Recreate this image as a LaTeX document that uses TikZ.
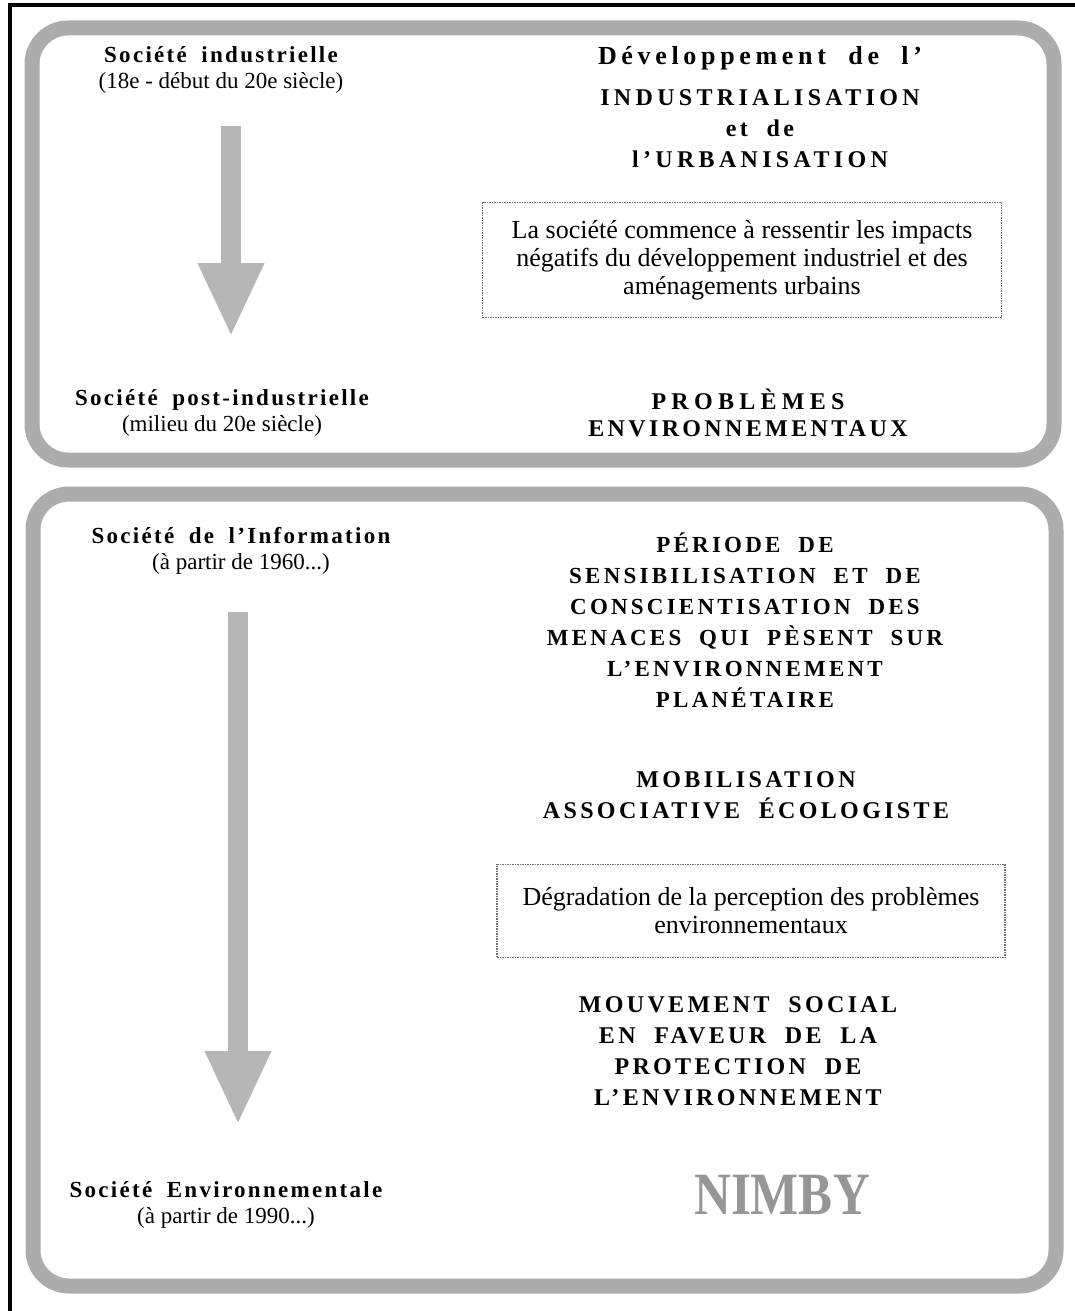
\documentclass[tikz,border=0pt]{standalone}
\usepackage{fontspec}
\setmainfont{Liberation Serif}
\newfontfamily\erafont[LetterSpace=10, WordSpace=1.8]{Liberation Serif}
\newfontfamily\stagefont[LetterSpace=14, WordSpace=2]{Liberation Serif}
\usepackage{tikz}
\usetikzlibrary{arrows.meta, positioning}
\definecolor{bandgray}{RGB}{172,172,172}
\definecolor{arrowgray}{RGB}{182,182,182}
\definecolor{dotgray}{RGB}{110,110,110}
\definecolor{nimbygray}{RGB}{150,150,150}
\newcommand{\eraname}[1]{{\erafont\bfseries #1}}
\tikzset{
  era/.style={
    align=center, font=\fontsize{23}{26}\selectfont, inner sep=0pt
  },
  stage/.style={
    align=center, inner sep=0pt,
    font=\fontsize{24}{31}\selectfont\stagefont\bfseries
  },
  note/.style={
    rectangle, draw=dotgray, densely dotted, line width=1.5pt,
    align=center, font=\fontsize{26}{28}\selectfont, inner sep=0pt
  },
  band/.style={draw=bandgray, line width=15pt, rounded corners=36pt},
  fatarrow/.style={
    line width=20pt, draw=arrowgray, -{Triangle[width=61pt, length=74pt]}
  }
}

\begin{document}
\begin{tikzpicture}[x=1pt, y=-1pt]
  \useasboundingbox (0,0) rectangle (1075,1311);
  \fill[white] (0,0) rectangle (1075,1311);

  % Frame and bands
  \draw[line width=4pt] (9.5,1311) -- (9.5,5.5) -- (1075,5.5);
  \draw[band] (32,28) rectangle (1054,460);
  \draw[band] (33,494) rectangle (1056,1286);

  % Left column
  \node[era] (indus) at (221,70)
    {\eraname{Société industrielle}\\(18e - début du 20e siècle)};
  \node[era] (postind) at (222,413)
    {\eraname{Société post-industrielle}\\(milieu du 20e siècle)};
  \node[era] (info) at (241,551)
    {\eraname{Société de l’Information}\\(à partir de 1960...)};
  \node[era] (envsoc) at (226,1205)
    {\eraname{Société Environnementale}\\(à partir de 1990...)};

  % Arrows
  \coordinate (a1top) at (231,126);
  \coordinate (a1tip) at (231,337);
  \coordinate (a2top) at (238,612);
  \coordinate (a2tip) at (238,1125);
  \draw[fatarrow] (a1top) -- (a1tip);
  \draw[fatarrow] (a2top) -- (a2tip);

  % Right column, top
  \node[stage] (devel) at (760,107)
    {{\fontsize{26}{31}\selectfont\addfontfeatures{LetterSpace=18}Développement de l’}\\[10pt]
     {\addfontfeatures{LetterSpace=18}INDUSTRIALISATION}\\et de\\
     {\addfontfeatures{LetterSpace=18}l’URBANISATION}};
  \node[note, minimum width=519pt, minimum height=115pt] (impacts) at (742,260)
    {La société commence à ressentir les impacts\\
     négatifs du développement industriel et des\\
     aménagements urbains};
  \node[stage, font=\fontsize{24}{27}\selectfont\stagefont\bfseries]
    (problems) at (748,413)
    {{\addfontfeatures{LetterSpace=22}PROBLÈMES}\\ENVIRONNEMENTAUX};

  % Right column, bottom
  \node[stage, font=\fontsize{23}{31}\selectfont\stagefont\bfseries]
    (periode) at (745,620)
    {PÉRIODE DE\\SENSIBILISATION ET DE\\CONSCIENTISATION DES\\
     MENACES QUI PÈSENT SUR\\L’ENVIRONNEMENT\\PLANÉTAIRE};
  \node[stage] (mobil) at (746,795)
    {MOBILISATION\\ASSOCIATIVE ÉCOLOGISTE};
  \node[note, minimum width=508pt, minimum height=93pt] (degrad) at (751,911)
    {Dégradation de la perception des problèmes\\environnementaux};
  \node[stage] (mouv) at (738,1051)
    {MOUVEMENT SOCIAL\\EN FAVEUR DE LA\\PROTECTION DE\\L’ENVIRONNEMENT};
  \node[font=\fontsize{60}{60}\selectfont\bfseries, text=nimbygray] (nimby) at (782,1195)
    {\scalebox{0.85}[1]{NIMBY}};
\end{tikzpicture}
\end{document}
